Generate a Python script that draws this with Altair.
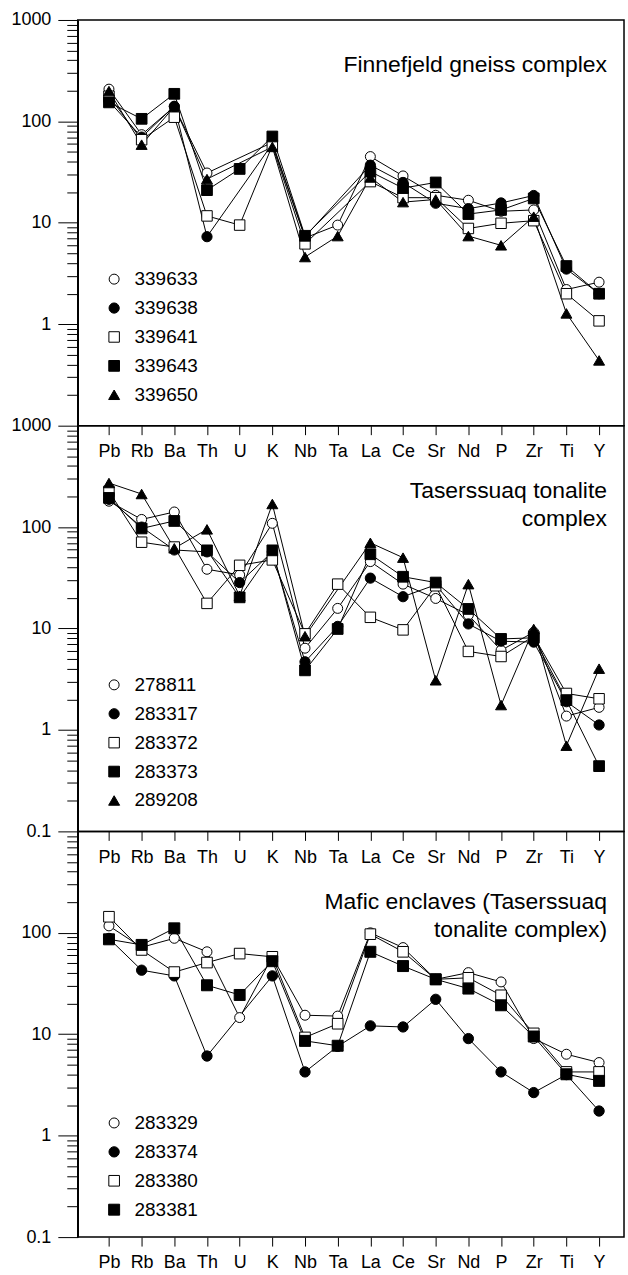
import altair as alt
import pandas as pd

N = None
elements = ["Pb", "Rb", "Ba", "Th", "U", "K", "Nb", "Ta", "La", "Ce", "Sr", "Nd", "P", "Zr", "Ti", "Y"]

panel_titles = [
    "Finnefjeld gneiss complex",
    "Taserssuaq tonalite\ncomplex",
    "Mafic enclaves (Taserssuaq\ntonalite complex)",
]

# ---- Panel 1: Finnefjeld gneiss complex
p1_samples = ["339633", "339638", "339641", "339643", "339650"]
s339633 = [208, 74, 140, 31, N, 62, 7.1, 9.5, 45, 29, 18.7, 16.7, 13, 13.4, 2.2, 2.6]
s339638 = [158, 70, 141, 7.3, N, 60, 7.3, N, 37, 25, 15.6, 13.8, 15.7, 18.6, 3.5, 2.0]
s339641 = [177, 66, 110, 11.7, 9.5, 58, 6.2, N, 25.5, 17.7, 17.7, 8.8, 9.9, 10.5, 2.0, 1.08]
s339643 = [154, 106, 187, 21, 34, 71, 7.45, N, 32, 22, 25, 12.2, 13.4, 17.4, 3.75, 2.0]
s339650 = [199, 59, 140, 27, N, 56, 4.6, 7.4, 28, 16, 17, 7.4, 6.0, 11.5, 1.28, 0.44]
p1_series = [s339633, s339638, s339641, s339643, s339650]

# ---- Panel 2: Taserssuaq tonalite complex
p2_samples = ["278811", "283317", "283372", "283373", "289208"]
s278811 = [180, 119, 141, 38.4, 33.8, 109, 6.4, 15.8, 45.7, 27.4, 19.8, 13.6, 6.1, 9.2, 1.37, 1.67]
s283317 = [188, 100, 59.5, 57, 28.4, 57, 4.7, 10.5, 31.4, 20.6, 27, 11.1, 7.5, 7.35, 1.9, 1.12]
s283372 = [225, 71, 63.6, 17.7, 42, 47.5, 8.87, 27.4, 12.9, 9.7, 26.4, 5.95, 5.3, 8.4, 2.29, 2.03]
s283373 = [194, 97, 115, 59, 20.3, 59, 3.87, 9.9, 54, 32.4, 28.4, 15.6, 7.9, 8.1, 1.97, 0.44]
s289208 = [272, 212, 61.8, 95, 21, 169, 8.4, N, 70, 50, 3.09, 27.4, 1.76, 9.9, 0.70, 4.02]
p2_series = [s278811, s283317, s283372, s283373, s289208]

# ---- Panel 3: Mafic enclaves
p3_samples = ["283329", "283374", "283380", "283381"]
s283329 = [117, 72, 88.3, 65, 14.6, 58, 15.4, 15.1, 100, 71.5, 34.8, 40.5, 32.8, 9.06, 6.35, 5.26]
s283374 = [88, 42.8, 37.6, 6.1, N, 37.6, 4.25, 7.6, 12.1, 11.8, 22.1, 9.06, 4.25, 2.66, 4.0, 1.75]
s283380 = [144, 67.8, 41, 50.9, 62.4, 58, 9.3, 12.7, 97, 65, 34.8, 36, 24.2, 10.2, 4.25, 4.25]
s283381 = [86.3, 76, 110.7, 30.4, 24.4, 52.5, 8.6, 7.7, 65, 47, 34.8, 28.2, 19.3, 9.5, 4.03, 3.47]
p3_series = [s283329, s283374, s283380, s283381]

# marker styles by sample order
marker_shapes = ["circle", "circle", "square", "square", "triangle-up"]
marker_fills = ["white", "black", "white", "black", "black"]
marker_sizes = [100, 121, 64, 144, 90]

major_p1 = [1, 10, 100, 1000]
major_p2 = [0.1, 1, 10, 100, 1000]
major_p3 = [0.1, 1, 10, 100]
minor_ticks = [k * 10.0 ** e for e in range(-1, 3) for k in range(2, 10)]

FONT = "Liberation Sans"
W, H = 548, 407
label_expr = "[" + ",".join("'%s'" % e for e in elements) + "][datum.value]"


def make_df(samples, series):
    rows = []
    for s, vals in zip(samples, series):
        for i, (el, v) in enumerate(zip(elements, vals)):
            if v is not None:
                rows.append({"sample": s, "idx": i, "element": el, "value": v})
    return pd.DataFrame(rows)


def panel(samples, series, title, major, legend_y, title_y):
    df = make_df(samples, series)
    n = len(samples)
    xscale = alt.Scale(domain=[-0.955, 15.763], nice=False, zero=False)
    yscale = alt.Scale(type="log", domain=[0.1, 1000], nice=False)

    def xaxis():
        return alt.Axis(values=list(range(len(elements))), labelExpr=label_expr, title=None,
                        tickSize=9, labelPadding=8, labelFontSize=18, labelFont=FONT,
                        labelColor="black", tickColor="black", tickWidth=1, domain=False,
                        grid=False, labelOverlap=False, labelFlush=False, tickCount=16)

    yaxis = alt.Axis(values=major, format="~g", orient="left", title=None, tickSize=20,
                     labelPadding=7, labelFontSize=18, labelFont=FONT, labelColor="black",
                     tickColor="black", tickWidth=1, domainColor="black", domainWidth=1.5,
                     grid=False, labelOverlap=False, labelFlush=False)
    yminor = alt.Axis(values=minor_ticks, orient="left", title=None, tickSize=11, labels=False,
                      domain=False, tickColor="black", tickWidth=1, grid=False)
    legend = alt.Legend(orient="none", legendX=27, legendY=legend_y, title=None,
                        labelFontSize=19, labelFont=FONT, labelColor="black", padding=0,
                        rowPadding=9, labelOffset=11, symbolStrokeWidth=1, symbolOpacity=1)
    dom = samples
    base = alt.Chart(df)
    lines = base.mark_line(color="black", strokeWidth=1).encode(
        x=alt.X("idx:Q", scale=xscale, axis=xaxis()),
        y=alt.Y("value:Q", scale=yscale, axis=yaxis),
        detail="sample:N",
        order="idx:Q",
    )
    minor = base.mark_point(opacity=0).encode(
        x=alt.X("idx:Q", scale=xscale, axis=xaxis()),
        y=alt.Y("value:Q", scale=yscale, axis=yminor),
    )
    pts = base.mark_point(filled=True, opacity=1, strokeWidth=1).encode(
        x=alt.X("idx:Q", scale=xscale, axis=xaxis()),
        y=alt.Y("value:Q", scale=yscale, axis=None),
        shape=alt.Shape("sample:N", scale=alt.Scale(domain=dom, range=marker_shapes[:n]), legend=legend),
        fill=alt.Fill("sample:N", scale=alt.Scale(domain=dom, range=marker_fills[:n]), legend=legend),
        stroke=alt.Stroke("sample:N", scale=alt.Scale(domain=dom, range=["black"] * n), legend=legend),
        size=alt.Size("sample:N", scale=alt.Scale(domain=dom, range=marker_sizes[:n]), legend=legend),
    )
    ttl = alt.Chart(pd.DataFrame({"t": [title]})).mark_text(
        align="right", baseline="alphabetic", fontSize=23, font=FONT, color="black",
        lineBreak="\n", lineHeight=27.5,
    ).encode(text="t:N", x=alt.value(W - 17), y=alt.value(title_y))
    return alt.layer(lines, minor, pts, ttl).resolve_axis(y="independent").properties(width=W, height=H)


p1 = panel(p1_samples, p1_series, panel_titles[0], major_p1, 250.5, 52)
p2 = panel(p2_samples, p2_series, panel_titles[1], major_p2, 250.5, 73)
p3 = panel(p3_samples, p3_series, panel_titles[2], major_p3, 283, 78)

chart = alt.vconcat(p1, p2, p3, spacing=0, bounds="flush").resolve_scale(
    shape="independent", fill="independent", size="independent", stroke="independent",
    y="independent", x="independent"
).properties(
    padding={"left": 10, "top": 8, "right": 3, "bottom": 5}, background="white"
).configure(font=FONT).configure_view(stroke="black", strokeWidth=1.5)

chart.save("out.html", embed_options={"renderer": "svg", "actions": False})
